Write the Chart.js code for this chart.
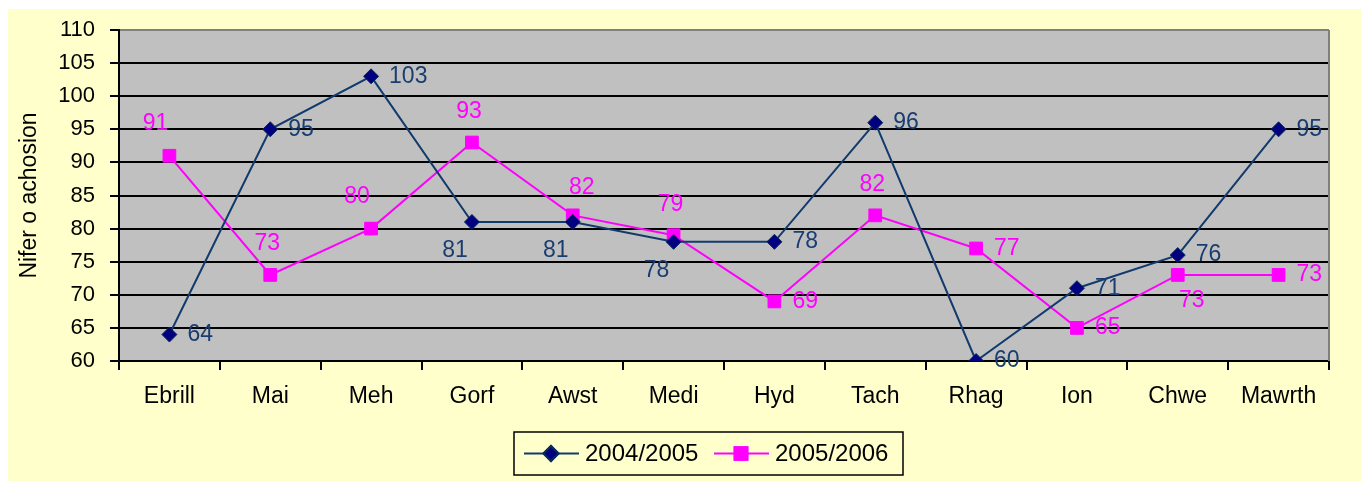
<!DOCTYPE html>
<html>
<head>
<meta charset="utf-8">
<script src="https://cdn.jsdelivr.net/npm/chart.js@4"></script>
<style>
  html, body { margin: 0; padding: 0; background: #fff; }
  #wrap { width: 1361px; height: 482px; }
</style>
</head>
<body>
<div id="wrap"><canvas id="chartAchosion" width="1361" height="482"></canvas></div>
<script>
// data
const misoedd = ['Ebrill', 'Mai', 'Meh', 'Gorf', 'Awst', 'Medi', 'Hyd', 'Tach', 'Rhag', 'Ion', 'Chwe', 'Mawrth'];
const cyfres2004 = [64, 95, 103, 81, 81, 78, 78, 96, 60, 71, 76, 95];
const cyfres2005 = [91, 73, 80, 93, 82, 79, 69, 82, 77, 65, 73, 73];
const yMin = 60, yMax = 110, yStep = 5;

// where each value label sits relative to its marker (style only)
const lle2004 = ['right', 'right', 'right', 'belowLeft', 'belowLeft', 'belowLeft', 'right', 'right', 'right', 'right', 'right', 'right'];
const lle2005 = ['aboveLeft', 'above', 'aboveLeft', 'above', 'aboveRight', 'above', 'right', 'above', 'right', 'right', 'belowRight', 'right'];

const FONT = '"Liberation Sans", Arial, sans-serif';
const NAVY_LINE = '#123a6c';
const NAVY_MARK = '#000080';
const MAGENTA = '#ff00ff';

const offsets = {
    right:      { dx: 18,  dy: 0,   align: 'left' },
    above:      { dx: -3,  dy: -31, align: 'center' },
    aboveLeft:  { dx: -14, dy: -32, align: 'center' },
    aboveRight: { dx: 9,   dy: -28, align: 'center' },
    belowLeft:  { dx: -17, dy: 29,  align: 'center' },
    belowRight: { dx: 14,  dy: 26,  align: 'center' }
};

const cefndir = {
    id: 'cefndir',
    beforeDraw(chart) {
        const { ctx, chartArea: a } = chart;
        ctx.save();
        ctx.fillStyle = '#ffffff';
        ctx.fillRect(0, 0, chart.width, chart.height);
        ctx.fillStyle = '#ffffcc';
        ctx.fillRect(8, 9, chart.width - 8, chart.height - 10);
        ctx.fillStyle = '#c0c0c0';
        ctx.fillRect(a.left, a.top, a.right - a.left, a.bottom - a.top);
        ctx.restore();
    },
    beforeDatasetsDraw(chart) {
        // right edge of the plot area
        const { ctx, chartArea: a } = chart;
        ctx.save();
        ctx.strokeStyle = '#808080';
        ctx.lineWidth = 2;
        ctx.beginPath();
        ctx.moveTo(a.right, a.top);
        ctx.lineTo(a.right, a.bottom);
        ctx.stroke();
        ctx.restore();
    }
};

const labeli = {
    id: 'labeli',
    afterDatasetsDraw(chart) {
        const { ctx } = chart;
        const lleoedd = [lle2004, lle2005];
        const lliwiau = ['#1a3d70', MAGENTA];
        ctx.save();
        ctx.font = '23px ' + FONT;
        ctx.textBaseline = 'middle';
        chart.data.datasets.forEach((ds, di) => {
            const meta = chart.getDatasetMeta(di);
            meta.data.forEach((pt, i) => {
                const o = offsets[lleoedd[di][i]];
                ctx.fillStyle = lliwiau[di];
                ctx.textAlign = o.align;
                ctx.fillText(String(ds.data[i]), pt.x + o.dx, pt.y + o.dy);
            });
        });
        ctx.restore();
    }
};

const allwedd = {
    id: 'allwedd',
    afterDraw(chart) {
        const { ctx } = chart;
        const bx = 514, by = 432, bw = 389, bh = 43;
        const cy = by + bh / 2;
        ctx.save();
        ctx.strokeStyle = '#000';
        ctx.lineWidth = 1.5;
        ctx.strokeRect(bx, by, bw, bh);
        ctx.font = '24px ' + FONT;
        ctx.textBaseline = 'middle';
        ctx.textAlign = 'left';
        const items = [
            { x: 524, ds: chart.data.datasets[0] },
            { x: 714, ds: chart.data.datasets[1] }
        ];
        items.forEach(it => {
            ctx.strokeStyle = it.ds.borderColor;
            ctx.lineWidth = 2;
            ctx.beginPath();
            ctx.moveTo(it.x, cy);
            ctx.lineTo(it.x + 55, cy);
            ctx.stroke();
            Chart.helpers.drawPoint(ctx, {
                pointStyle: it.ds.pointStyle,
                radius: it.ds.pointRadius,
                borderWidth: it.ds.pointBorderWidth,
                rotation: 0
            }, it.x + 27, cy);
            ctx.fillStyle = it.ds.pointBackgroundColor;
            ctx.strokeStyle = it.ds.pointBorderColor;
            ctx.fill();
            ctx.stroke();
            ctx.fillStyle = '#000';
            ctx.fillText(it.ds.label, it.x + 61, cy + 1);
        });
        ctx.restore();
    }
};

document.addEventListener('DOMContentLoaded', () => {
    new Chart(document.getElementById('chartAchosion'), {
        type: 'line',
        data: {
            labels: misoedd,
            datasets: [{
                label: '2004/2005',
                data: cyfres2004,
                borderColor: NAVY_LINE,
                borderWidth: 2,
                pointStyle: 'rectRot',
                pointRadius: 7.5,
                pointBackgroundColor: NAVY_MARK,
                pointBorderColor: '#0a2a5a',
                pointBorderWidth: 1,
                tension: 0
            }, {
                label: '2005/2006',
                data: cyfres2005,
                borderColor: MAGENTA,
                borderWidth: 2,
                pointStyle: 'rect',
                pointRadius: 9,
                pointBackgroundColor: MAGENTA,
                pointBorderColor: MAGENTA,
                pointBorderWidth: 1,
                tension: 0
            }]
        },
        options: {
            responsive: false,
            animation: false,
            layout: { padding: { top: 30, right: 32, left: 0, bottom: 0 } },
            plugins: {
                legend: { display: false },
                tooltip: { enabled: false }
            },
            scales: {
                x: {
                    offset: true,
                    afterFit: (s) => { s.height = 121; },
                    grid: {
                        offset: true,
                        drawOnChartArea: false,
                        color: '#000',
                        lineWidth: 2,
                        tickLength: 9
                    },
                    border: { color: '#000', width: 2 },
                    ticks: {
                        color: '#000',
                        font: { family: FONT, size: 23 },
                        padding: 13,
                        maxRotation: 0,
                        autoSkip: false
                    }
                },
                y: {
                    min: yMin,
                    max: yMax,
                    afterFit: (s) => { s.width = 119; },
                    grid: {
                        color: (c) => c.tick && c.tick.value === yMax ? '#808080' : '#000',
                        tickColor: '#000',
                        lineWidth: 2,
                        tickLength: 9
                    },
                    border: { color: '#000', width: 2 },
                    ticks: {
                        stepSize: yStep,
                        color: '#000',
                        font: { family: FONT, size: 22 },
                        padding: 15
                    },
                    title: {
                        display: true,
                        text: 'Nifer o achosion',
                        color: '#000',
                        font: { family: FONT, size: 23 },
                        padding: { top: 16 }
                    }
                }
            }
        },
        plugins: [cefndir, labeli, allwedd]
    });
});
</script>
</body>
</html>
